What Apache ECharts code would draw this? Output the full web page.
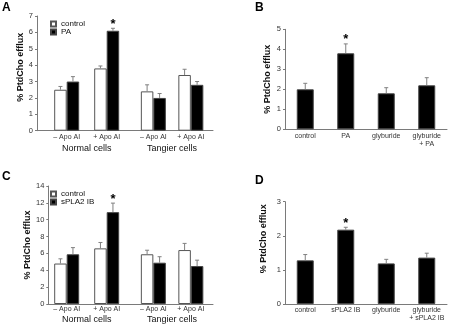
<!DOCTYPE html>
<html>
<head>
<meta charset="utf-8">
<script src="https://cdn.jsdelivr.net/npm/echarts@6/dist/echarts.min.js"></script>
<style>
  html, body { margin: 0; padding: 0; background: #fff; }
  #chart { width: 451px; height: 327px; }
</style>
</head>
<body>
<div id="chart"></div>
<script>
  // ---- data ----
  // A: PA on normal / Tangier cells
  const cellGroups = ['Normal cells', 'Tangier cells'];
  const apoCats = ['– Apo AI', '+ Apo AI'];
  const aControl = [2.5, 3.8, 2.4, 3.4];
  const aControlErr = [0.2, 0.15, 0.4, 0.35];
  const aPA = [3.0, 6.1, 2.0, 2.8];
  const aPAErr = [0.3, 0.15, 0.27, 0.2];
  const aPAStar = [0, 1, 0, 0];

  // B: PA with glyburide
  const bCats = ['control', 'PA', 'glyburide', 'glyburide\n+ PA'];
  const bVals = [2.0, 3.8, 1.8, 2.2];
  const bErr = [0.3, 0.47, 0.28, 0.38];
  const bStar = [0, 1, 0, 0];

  // C: sPLA2 IB on normal / Tangier cells
  const cControl = [4.8, 6.6, 5.9, 6.4];
  const cControlErr = [0.56, 0.7, 0.48, 0.79];
  const cSPLA2 = [5.9, 10.9, 4.9, 4.5];
  const cSPLA2Err = [0.79, 1.07, 0.71, 0.7];
  const cSPLA2Star = [0, 1, 0, 0];

  // D: sPLA2 IB with glyburide
  const dCats = ['control', 'sPLA2 IB', 'glyburide', 'glyburide\n+ sPLA2 IB'];
  const dVals = [1.28, 2.18, 1.19, 1.36];
  const dErr = [0.17, 0.07, 0.12, 0.13];
  const dStar = [0, 1, 0, 0];

  // ---- styles ----
  const FONT = "'Liberation Sans', Arial, sans-serif";
  const AXIS = '#7a7a7a';
  const TXT = '#333';
  const whiteBar = { color: '#fff', borderColor: '#555', borderWidth: 1 };
  const blackBar = { color: '#000', borderColor: '#444', borderWidth: 1 };

  const panels = [
    {
      letter: 'A', lx: 2, ly: 1.5, axisLeft: 37, axisRight: 213, top: 16, bottom: 130.7,
      yMax: 7, yStep: 1, nameGap: 8.5, nameShift: 12,
      dataGrids: [{ left: 46.7, width: 80 }, { left: 134.6, width: 75 }],
      barW: 12.5, labelMargin: 2, groups: cellGroups, groupGap: 13, cats: apoCats,
      series: [
        { name: 'control', vals: aControl, errs: aControlErr, style: whiteBar },
        { name: 'PA', vals: aPA, errs: aPAErr, star: aPAStar, style: blackBar }
      ],
      legend: { left: 50, top: 20 }
    },
    {
      letter: 'B', lx: 255, ly: 1.5, axisLeft: 285, axisRight: 447, top: 29.3, bottom: 129.3,
      yMax: 5, yStep: 1, nameGap: 12.8, nameShift: 0,
      dataGrids: [{ left: 285, width: 162 }],
      barW: 17, labelMargin: 3, cats: bCats,
      series: [{ name: 'B', vals: bVals, errs: bErr, star: bStar, style: blackBar }]
    },
    {
      letter: 'C', lx: 2, ly: 171, axisLeft: 48.3, axisRight: 213, top: 186, bottom: 304,
      yMax: 14, yStep: 2, nameGap: 11.5, nameShift: 0,
      dataGrids: [{ left: 46.7, width: 80 }, { left: 134.6, width: 75 }],
      barW: 12.5, labelMargin: 1, groups: cellGroups, groupGap: 11, cats: apoCats,
      series: [
        { name: 'control', vals: cControl, errs: cControlErr, style: whiteBar },
        { name: 'sPLA2 IB', vals: cSPLA2, errs: cSPLA2Err, star: cSPLA2Star, style: blackBar }
      ],
      legend: { left: 50, top: 190 }
    },
    {
      letter: 'D', lx: 255, ly: 175, axisLeft: 285, axisRight: 447, top: 201.7, bottom: 304,
      yMax: 3, yStep: 1, nameGap: 16.5, nameShift: 28,
      dataGrids: [{ left: 285, width: 162 }],
      barW: 17, labelMargin: 2, cats: dCats,
      series: [{ name: 'D', vals: dVals, errs: dErr, star: dStar, style: blackBar }]
    }
  ];

  // error bar + significance star, drawn on top of the bars
  function makeErr(barW, nSeries) {
    return function (params, api) {
      const v = api.value(1);
      const base = api.coord([api.value(0), v]);
      const top = api.coord([api.value(0), v + api.value(2)]);
      const x = base[0] + (api.value(3) - (nSeries - 1) / 2) * barW;
      const kids = [
        { type: 'line', shape: { x1: x, y1: base[1], x2: x, y2: top[1] }, style: { stroke: '#808080', lineWidth: 1 } },
        { type: 'line', shape: { x1: x - 2, y1: top[1], x2: x + 2, y2: top[1] }, style: { stroke: '#808080', lineWidth: 1 } }
      ];
      if (api.value(4)) {
        kids.push({
          type: 'text',
          style: { text: '*', x: x, y: top[1] - 4, textAlign: 'center', textVerticalAlign: 'middle',
                   fontSize: 13, fontWeight: 'bold', fontFamily: FONT, fill: '#000' }
        });
      }
      return { type: 'group', children: kids };
    };
  }

  const grid = [], xAxis = [], yAxis = [], series = [], title = [], legend = [];

  panels.forEach(function (p) {
    title.push({ text: p.letter, left: p.lx, top: p.ly, padding: 0,
                 textStyle: { fontSize: 12, fontWeight: 'bold', fontFamily: FONT, color: '#000' } });

    // frame grid: y axis with ticks + full-width x axis line
    const ag = grid.length;
    grid.push({ left: p.axisLeft, width: p.axisRight - p.axisLeft, top: p.top, height: p.bottom - p.top });
    xAxis.push({ type: 'value', gridIndex: ag, min: 0, max: 1,
                 axisLine: { show: true, lineStyle: { color: AXIS } },
                 axisTick: { show: false }, axisLabel: { show: false }, splitLine: { show: false } });
    yAxis.push({ type: 'value', gridIndex: ag, min: 0, max: p.yMax, interval: p.yStep,
                 axisLine: { show: true, lineStyle: { color: AXIS } },
                 axisTick: { show: true, length: 2, lineStyle: { color: AXIS } },
                 axisLabel: { fontSize: 7.5, margin: 4, color: TXT, fontFamily: FONT },
                 splitLine: { show: false },
                 name: '% PtdCho efflux', nameLocation: 'middle', nameGap: p.nameGap,
                 nameTextStyle: { fontSize: 9, fontWeight: 'bold', color: '#111', fontFamily: FONT,
                                  padding: [0, 0, 0, p.nameShift] } });

    // data grids
    p.dataGrids.forEach(function (dg, gi) {
      const g = grid.length;
      const n = p.cats.length;
      const cut = function (arr) { return arr.slice(gi * n, gi * n + n); };
      grid.push({ left: dg.left, width: dg.width, top: p.top, height: p.bottom - p.top });
      xAxis.push({ type: 'category', gridIndex: g, data: p.cats,
                   axisLine: { show: false }, axisTick: { show: false },
                   axisLabel: { interval: 0, fontSize: 7, lineHeight: 8, margin: p.labelMargin, color: TXT, fontFamily: FONT },
                   name: p.groups ? p.groups[gi] : '', nameLocation: 'middle', nameGap: p.groupGap,
                   nameTextStyle: { fontSize: 9, color: '#111', fontFamily: FONT } });
      yAxis.push({ type: 'value', gridIndex: g, min: 0, max: p.yMax, show: false });

      const errData = [];
      p.series.forEach(function (s, si) {
        const vals = cut(s.vals), errs = cut(s.errs), stars = s.star ? cut(s.star) : [];
        series.push({ type: 'bar', name: s.name, xAxisIndex: g, yAxisIndex: g, data: vals,
                      barWidth: p.barW, barGap: '0%', itemStyle: s.style, silent: true });
        vals.forEach(function (v, k) { errData.push([k, v, errs[k], si, stars[k] || 0]); });
      });
      series.push({ type: 'custom', xAxisIndex: g, yAxisIndex: g, data: errData,
                    encode: { x: 0, y: 1 }, renderItem: makeErr(p.barW, p.series.length),
                    z: 5, silent: true, clip: false });
    });

    if (p.legend) {
      legend.push({ data: p.series.map(function (s) { return s.name; }),
                    left: p.legend.left, top: p.legend.top, orient: 'vertical', padding: 0,
                    itemWidth: 5, itemHeight: 5, itemGap: 0, icon: 'rect', selectedMode: false,
                    textStyle: { fontSize: 8, lineHeight: 8, color: '#111', fontFamily: FONT } });
    }
  });

  const chart = echarts.init(document.getElementById('chart'), null, { renderer: 'canvas' });
  chart.setOption({
    animation: false,
    backgroundColor: '#fff',
    textStyle: { fontFamily: FONT },
    title: title,
    legend: legend,
    grid: grid,
    xAxis: xAxis,
    yAxis: yAxis,
    series: series
  });
</script>
</body>
</html>
